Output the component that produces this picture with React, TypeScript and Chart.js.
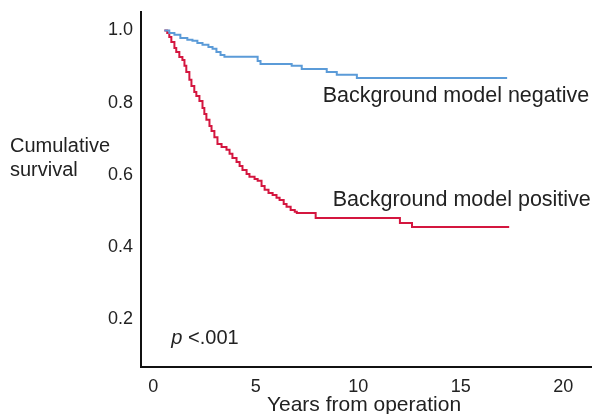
import React, { useEffect, useRef } from "react";
import { Chart, registerables } from "chart.js";

Chart.register(...registerables);

// Background model negative (blue) – event times (years) and survival after each step
const negTimes = [0.54, 0.78, 1.03, 1.32, 1.66, 1.91, 2.15, 2.4, 2.69, 2.89, 3.08, 3.28, 3.47, 5.09, 5.23, 6.75, 7.24, 8.46, 8.95, 9.93, 17.26];
const negSurv = [1.0, 0.993, 0.988, 0.979, 0.974, 0.971, 0.965, 0.96, 0.954, 0.949, 0.94, 0.932, 0.927, 0.915, 0.907, 0.902, 0.893, 0.885, 0.877, 0.868, 0.868];

// Background model positive (red)
const posTimes = [0.54, 0.68, 0.78, 0.88, 1.03, 1.12, 1.27, 1.42, 1.52, 1.61, 1.76, 1.86, 2.0, 2.1, 2.25, 2.4, 2.49, 2.59, 2.74, 2.84, 2.98, 3.13, 3.33, 3.57, 3.72, 3.86, 4.06, 4.21, 4.35, 4.55, 4.69, 4.94, 5.09, 5.28, 5.43, 5.62, 5.82, 6.01, 6.16, 6.36, 6.5, 6.7, 6.9, 7.0, 7.92, 12.03, 12.62, 17.36];
const posSurv = [1.0, 0.993, 0.982, 0.968, 0.951, 0.94, 0.926, 0.918, 0.902, 0.885, 0.863, 0.846, 0.829, 0.818, 0.804, 0.785, 0.768, 0.752, 0.735, 0.721, 0.704, 0.685, 0.677, 0.669, 0.658, 0.646, 0.635, 0.624, 0.613, 0.602, 0.594, 0.588, 0.583, 0.569, 0.558, 0.549, 0.544, 0.536, 0.53, 0.519, 0.511, 0.502, 0.497, 0.494, 0.48, 0.466, 0.455, 0.455];

const xTicks = [0, 5, 10, 15, 20];
const yTicks = [0.2, 0.4, 0.6, 0.8, 1.0];

const FONT = "'Liberation Sans', Arial, Helvetica, sans-serif";
const TEXT = "#222222";

const textPlugin = {
  id: "textPlugin",
  afterDraw(chart: any) {
    const ctx = chart.ctx;
    const xs = chart.scales.x;
    const ys = chart.scales.y;
    ctx.save();
    ctx.fillStyle = TEXT;
    ctx.textBaseline = "middle";
    ctx.textAlign = "left";
    ctx.font = `21.5px ${FONT}`;
    ctx.fillText("Background model negative", xs.getPixelForValue(8.26), ys.getPixelForValue(0.818));
    ctx.fillText("Background model positive", xs.getPixelForValue(8.75), ys.getPixelForValue(0.53));
    // p value
    const px = xs.getPixelForValue(0.88);
    const py = ys.getPixelForValue(0.145);
    ctx.font = `italic 20px ${FONT}`;
    ctx.fillText("p", px, py);
    const pw = ctx.measureText("p ").width;
    ctx.font = `20px ${FONT}`;
    ctx.fillText("<.001", px + pw, py);
    // y axis title (horizontal, two lines)
    ctx.fillText("Cumulative", 10, 146);
    ctx.fillText("survival", 10, 170);
    // x axis title
    ctx.textAlign = "center";
    ctx.font = `21px ${FONT}`;
    ctx.fillText("Years from operation", 364, 405);
    ctx.restore();
  },
};

export default function App() {
  const ref = useRef<HTMLCanvasElement | null>(null);
  useEffect(() => {
    if (!ref.current) return;
    const chart = new Chart(ref.current, {
      type: "line",
      data: {
        datasets: [
          {
            label: "Background model negative",
            data: negTimes.map((t, i) => ({ x: t, y: negSurv[i] })),
            borderColor: "#5b9bd8",
            borderWidth: 2,
            stepped: true,
            pointRadius: 0,
            fill: false,
          },
          {
            label: "Background model positive",
            data: posTimes.map((t, i) => ({ x: t, y: posSurv[i] })),
            borderColor: "#d4163f",
            borderWidth: 2,
            stepped: true,
            pointRadius: 0,
            fill: false,
          },
        ],
      },
      options: {
        animation: false,
        responsive: false,
        layout: { padding: { top: 12, right: 0, left: 0, bottom: 0 } },
        plugins: { legend: { display: false }, tooltip: { enabled: false } },
        scales: {
          x: {
            type: "linear",
            min: -0.6,
            max: 21.4,
            grid: { display: false, drawTicks: false },
            border: { display: true, color: "#111", width: 2 },
            afterBuildTicks: (s: any) => {
              s.ticks = xTicks.map((v) => ({ value: v }));
            },
            afterFit: (s: any) => {
              s.height = 47;
              s.paddingLeft = 0;
              s.paddingRight = 0;
            },
            ticks: {
              font: { size: 18, family: FONT },
              color: TEXT,
              padding: 9,
              maxRotation: 0,
              callback: (v: any) => String(v),
            },
          },
          y: {
            type: "linear",
            min: 0.067,
            max: 1.051,
            grid: { display: false, drawTicks: false },
            border: { display: true, color: "#111", width: 2 },
            afterBuildTicks: (s: any) => {
              s.ticks = yTicks.map((v) => ({ value: v }));
            },
            afterFit: (s: any) => {
              s.width = 141;
              s.paddingTop = 0;
              s.paddingBottom = 0;
            },
            ticks: {
              font: { size: 18, family: FONT },
              color: TEXT,
              padding: 8,
              callback: (v: any) => Number(v).toFixed(1),
            },
          },
        },
      },
      plugins: [textPlugin],
    });
    return () => chart.destroy();
  }, []);
  return (
    <div style={{ position: "absolute", left: 0, top: 0, width: 592, height: 414, background: "#fff" }}>
      <canvas ref={ref} width={592} height={414} style={{ display: "block" }} />
    </div>
  );
}
